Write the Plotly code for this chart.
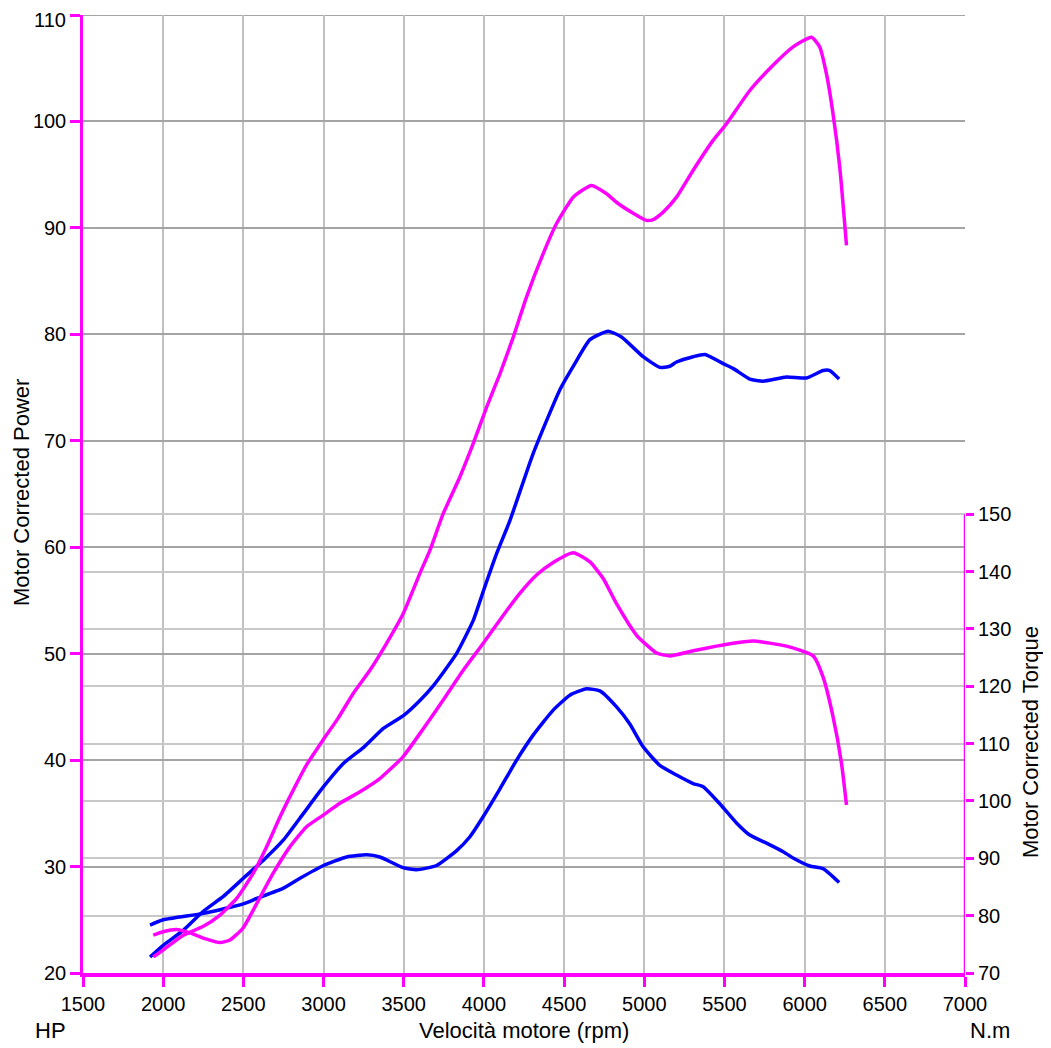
import plotly.graph_objects as go

# ---- data ----
rpm_power_a = [1918, 2000, 2125, 2250, 2375, 2500, 2625, 2750, 2875, 3000, 3125, 3250, 3375, 3500,
               3601, 3680, 3750, 3829, 3933, 4006, 4079, 4162, 4307, 4474, 4567, 4661, 4775, 4858,
               4993, 5097, 5159, 5201, 5305, 5378, 5492, 5554, 5658, 5741, 5887, 6011, 6115, 6157, 6215]
power_a = [21.5, 22.6, 24.0, 25.8, 27.2, 28.9, 30.6, 32.5, 35.0, 37.5, 39.7, 41.2, 43.0, 44.2,
           45.6, 46.9, 48.3, 50.0, 53.1, 56.3, 59.4, 62.5, 68.8, 74.8, 77.25, 79.5, 80.3, 79.75,
           77.9, 76.9, 77.0, 77.4, 77.9, 78.1, 77.25, 76.8, 75.8, 75.6, 76.0, 75.9, 76.6, 76.6, 75.8]

rpm_power_b = [1918, 2000, 2250, 2500, 2583, 2747, 2853, 3000, 3144, 3269, 3351, 3495, 3580, 3705,
               3830, 3913, 3996, 4100, 4204, 4307, 4432, 4536, 4640, 4723, 4827, 4910, 4993, 5097,
               5201, 5305, 5367, 5471, 5575, 5658, 5762, 5866, 5928, 6032, 6115, 6215]
power_b = [24.5, 25.0, 25.6, 26.5, 27.0, 27.95, 28.9, 30.1, 30.9, 31.1, 30.9, 29.9, 29.7, 30.1,
           31.5, 32.8, 34.7, 37.3, 40.0, 42.35, 44.7, 46.1, 46.7, 46.5, 45.0, 43.4, 41.25, 39.5,
           38.6, 37.8, 37.5, 35.9, 34.1, 32.96, 32.2, 31.4, 30.8, 30.05, 29.8, 28.5]

rpm_torque_a = [1938, 1999, 2125, 2248, 2354, 2458, 2562, 2645, 2728, 2811, 2894, 2996, 3090, 3185,
                3289, 3393, 3497, 3601, 3663, 3746, 3850, 3933, 4017, 4100, 4183, 4266, 4369, 4453,
                4557, 4671, 4765, 4837, 4931, 5014, 5055, 5118, 5201, 5305, 5429, 5513, 5658, 5803,
                5928, 6043, 6094, 6136, 6177, 6219, 6261]
torque_a = [72.8, 74.0, 76.6, 78.1, 80.1, 83.0, 87.4, 92.0, 97.2, 101.9, 106.3, 110.6, 114.4, 118.75,
            122.8, 127.5, 132.7, 139.7, 143.7, 150.1, 156.5, 162.3, 168.7, 174.5, 180.9, 187.9, 195.4, 200.7,
            205.3, 207.35, 205.9, 204.2, 202.5, 201.25, 201.4, 202.7, 205.3, 210.0, 215.2, 218.1, 223.9, 228.3,
            231.5, 233.2, 231.5, 226.8, 219.85, 210.5, 196.9]

rpm_torque_b = [1938, 1999, 2084, 2167, 2271, 2354, 2416, 2497, 2583, 2686, 2790, 2894, 2996, 3102,
                3227, 3351, 3495, 3622, 3746, 3871, 3996, 4121, 4224, 4328, 4432, 4557, 4661, 4744,
                4827, 4952, 5077, 5159, 5305, 5450, 5575, 5679, 5887, 6053, 6115, 6177, 6230, 6261]
torque_b = [76.6, 77.2, 77.6, 77.0, 75.9, 75.3, 75.75, 77.8, 82.1, 87.4, 92.0, 95.5, 97.5, 99.6,
            101.6, 103.9, 107.7, 112.6, 117.6, 122.8, 127.5, 132.4, 136.2, 139.4, 141.6, 143.3, 141.7, 138.8,
            134.4, 128.9, 125.8, 125.3, 126.2, 127.0, 127.6, 127.9, 127.0, 125.3, 121.6, 114.7, 106.55, 99.3]

x_ticks = list(range(1500, 7001, 500))
hp_ticks = list(range(20, 111, 10))
hp_labels = [str(v) for v in hp_ticks[:-1]] + [""]   # top label drawn separately so it is not clipped
nm_ticks = list(range(70, 151, 10))

BLUE = "#0000ff"
MAGENTA = "#ff00ff"
FONT = "Liberation Sans, Arial, sans-serif"

fig = go.Figure()
line_kw = dict(shape="spline", smoothing=0.5)
fig.add_trace(go.Scatter(x=rpm_power_a, y=power_a, mode="lines",
                         line=dict(color=BLUE, width=3.5, **line_kw), yaxis="y"))
fig.add_trace(go.Scatter(x=rpm_power_b, y=power_b, mode="lines",
                         line=dict(color=BLUE, width=3.5, **line_kw), yaxis="y"))
fig.add_trace(go.Scatter(x=rpm_torque_a, y=torque_a, mode="lines",
                         line=dict(color=MAGENTA, width=3.5, **line_kw), yaxis="y2"))
fig.add_trace(go.Scatter(x=rpm_torque_b, y=torque_b, mode="lines",
                         line=dict(color=MAGENTA, width=3.5, **line_kw), yaxis="y2"))

# page body adds an 8px offset; size the figure to compensate
OFF = 8
W, H = 1051 - OFF, 1048 - OFF
L, R, T, B = 83 - OFF, 86, 15 - OFF, 75
pw, ph = W - L - R, H - T - B

def px(xpix):
    return (xpix - OFF - L) / pw

def py(ypix):
    return (H - B - (ypix - OFF)) / ph

fig.update_layout(
    width=W, height=H,
    margin=dict(l=L, r=R, t=T, b=B, autoexpand=False),
    paper_bgcolor="white",
    plot_bgcolor="rgba(0,0,0,0)",
    showlegend=False,
    font=dict(family=FONT, size=20, color="black"),
    xaxis=dict(range=[1500, 7000], tickvals=x_ticks, showgrid=True, gridcolor="#c0c0c0", gridwidth=2,
               zeroline=False, showline=True, linecolor=MAGENTA, linewidth=4,
               ticks="outside", ticklen=10, tickwidth=3, tickcolor=MAGENTA,
               ticklabeloverflow="allow",
               tickfont=dict(family=FONT, size=20, color="black")),
    yaxis=dict(range=[20, 110], tickvals=hp_ticks, ticktext=hp_labels, showgrid=True,
               gridcolor="#a4a4a4", gridwidth=2,
               zeroline=False, showline=True, linecolor=MAGENTA, linewidth=2.5,
               ticks="outside", ticklen=10, tickwidth=3, tickcolor=MAGENTA,
               ticklabeloverflow="allow",
               tickfont=dict(family=FONT, size=20, color="black")),
    yaxis2=dict(overlaying="y", side="right", range=[70, 237.07], tickvals=nm_ticks,
                showgrid=True, gridcolor="#c8c8c8", gridwidth=2, zeroline=False, showline=False,
                ticks="outside", ticklen=8, tickwidth=3, tickcolor=MAGENTA,
                ticklabeloverflow="allow",
                tickfont=dict(family=FONT, size=20, color="black")),
)

# right axis line only spanning the torque scale
fig.add_shape(type="line", xref="x", yref="y2", x0=7000, x1=7000, y0=70, y1=150,
              line=dict(color=MAGENTA, width=2.5), layer="above")
# top border gridline
fig.add_shape(type="line", xref="paper", yref="y", x0=0, x1=1, y0=110, y1=110,
              line=dict(color="#a4a4a4", width=2), layer="below")

# top HP tick label, kept inside the figure
fig.add_annotation(text=str(hp_ticks[-1]), x=px(67), y=1 + T / ph, xref="paper", yref="paper",
                   xanchor="right", yanchor="top", showarrow=False, borderpad=0,
                   font=dict(family=FONT, size=20, color="black"))

ann = dict(showarrow=False, xref="paper", yref="paper", font=dict(family=FONT, size=22, color="black"))
fig.add_annotation(text="Velocità motore (rpm)", x=px(524), y=py(1030), xanchor="center", yanchor="middle", **ann)
fig.add_annotation(text="HP", x=px(50), y=py(1030), xanchor="center", yanchor="middle", **ann)
fig.add_annotation(text="N.m", x=px(990), y=py(1030), xanchor="center", yanchor="middle", **ann)
fig.add_annotation(text="Motor Corrected Power", x=px(21), y=py(493), textangle=-90,
                   xanchor="center", yanchor="middle", **ann)
fig.add_annotation(text="Motor Corrected Torque", x=px(1030), y=py(742), textangle=-90,
                   xanchor="center", yanchor="middle", **ann)

fig.write_html("out.html")
